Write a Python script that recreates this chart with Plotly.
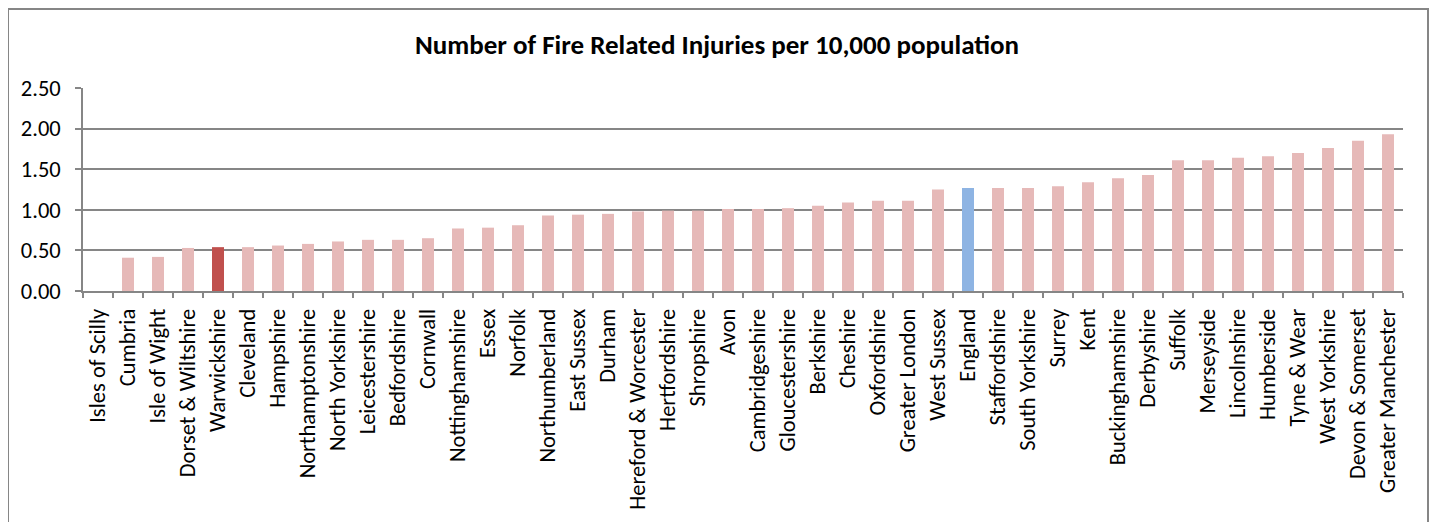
import plotly.graph_objects as go

categories = ["Isles of Scilly", "Cumbria", "Isle of Wight", "Dorset & Wiltshire", "Warwickshire",
              "Cleveland", "Hampshire", "Northamptonshire", "North Yorkshire", "Leicestershire",
              "Bedfordshire", "Cornwall", "Nottinghamshire", "Essex", "Norfolk", "Northumberland",
              "East Sussex", "Durham", "Hereford & Worcester", "Hertfordshire", "Shropshire", "Avon",
              "Cambridgeshire", "Gloucestershire", "Berkshire", "Cheshire", "Oxfordshire",
              "Greater London", "West Sussex", "England", "Staffordshire", "South Yorkshire", "Surrey",
              "Kent", "Buckinghamshire", "Derbyshire", "Suffolk", "Merseyside", "Lincolnshire",
              "Humberside", "Tyne & Wear", "West Yorkshire", "Devon & Somerset", "Greater Manchester"]

values = [0.00, 0.41, 0.42, 0.53, 0.54,
          0.54, 0.56, 0.58, 0.61, 0.63,
          0.63, 0.65, 0.77, 0.78, 0.81, 0.93,
          0.94, 0.95, 0.98, 0.99, 0.99, 1.01,
          1.01, 1.02, 1.05, 1.09, 1.11,
          1.11, 1.25, 1.27, 1.27, 1.27, 1.29,
          1.34, 1.39, 1.43, 1.61, 1.61, 1.64,
          1.66, 1.70, 1.76, 1.85, 1.93]

highlight_local = "Warwickshire"
highlight_national = "England"
base_color = "#E6B9B8"
local_color = "#C0504D"
national_color = "#8EB4E3"

colors = [local_color if c == highlight_local else national_color if c == highlight_national else base_color
          for c in categories]

font_family = "Carlito, Lato, sans-serif"

fig = go.Figure(go.Bar(x=categories, y=values, marker=dict(color=colors, line=dict(width=0)),
                       width=0.4))

W, H = 1437, 522
L, R, T, B = 75, 42, 80, 239
fig.update_layout(
    width=W, height=H,
    margin=dict(l=L, r=R, t=T, b=B),
    paper_bgcolor="white", plot_bgcolor="white",
    title=dict(text="<b>Number of Fire Related Injuries per 10,000 population</b>",
               x=(709 - 0) / W, xanchor="center", y=1 - 37 / H, yanchor="middle",
               font=dict(family=font_family, size=27, color="#000000")),
    font=dict(family=font_family, size=22, color="#000000"),
    showlegend=False,
    bargap=0.6,
)

fig.update_xaxes(
    type="category", tickangle=-90, tickson="boundaries", automargin=False,
    ticks="outside", ticklen=5, tickcolor="#868686", tickwidth=1.5,
    showline=True, linecolor="#868686", linewidth=1.5,
    showgrid=False, ticklabelstandoff=7,
    tickfont=dict(size=22.5, family=font_family, color="#000000"),
)

fig.update_yaxes(
    range=[0, 2.5], tickvals=[0, 0.5, 1.0, 1.5, 2.0, 2.5], tickformat=".2f",
    automargin=False,
    ticks="outside", ticklen=6, tickcolor="#868686", tickwidth=1.5,
    showline=True, linecolor="#868686", linewidth=1.5,
    showgrid=True, gridcolor="#868686", gridwidth=1.5, zeroline=False,
    ticklabelstandoff=10,
    tickfont=dict(size=22.5, family=font_family, color="#000000"),
)

pw, ph = W - L - R, H - T - B
# outer chart frame
fig.add_shape(type="rect", xref="paper", yref="paper",
              x0=(0 - L) / pw, x1=(1420 - L) / pw,
              y0=-(H + 20 - (H - B)) / ph, y1=((H - B) - 1) / ph,
              line=dict(color="#868686", width=2), fillcolor="rgba(0,0,0,0)", layer="below")

fig.write_html("out.html")
